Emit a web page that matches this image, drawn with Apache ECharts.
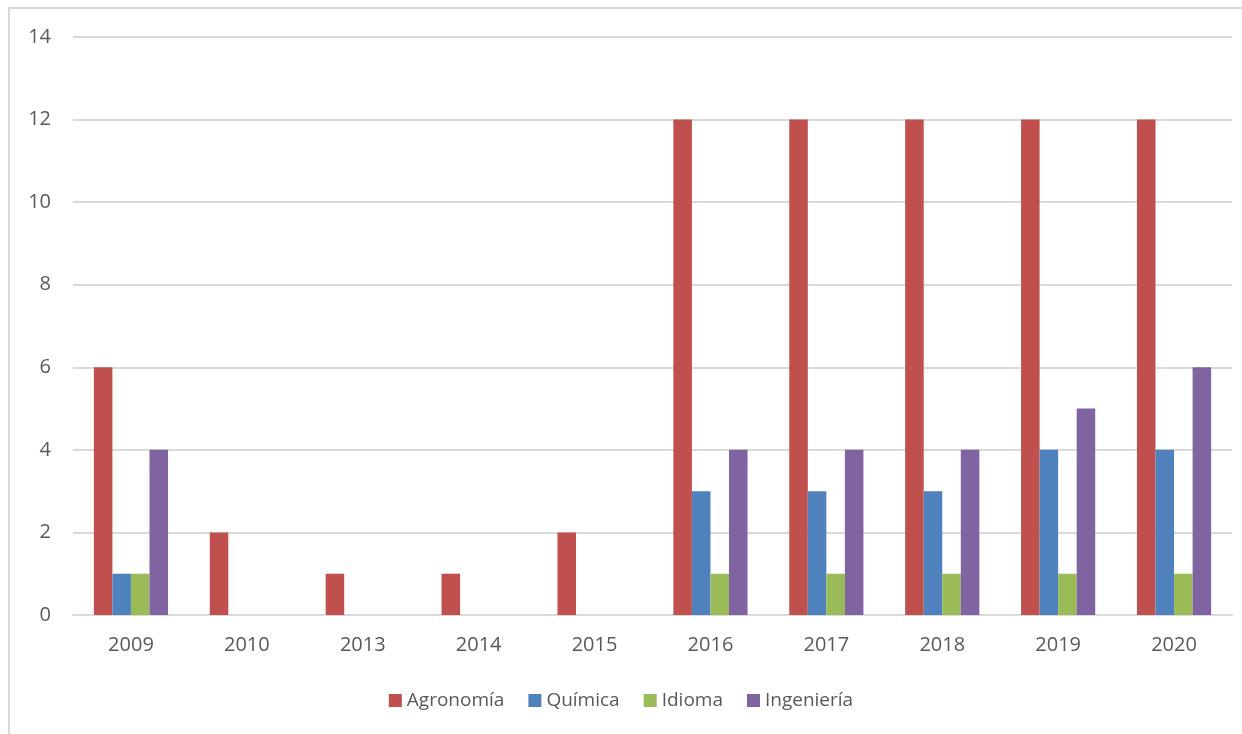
<!DOCTYPE html>
<html><head><meta charset="utf-8">
<script src="https://cdn.jsdelivr.net/npm/echarts@6/dist/echarts.min.js"></script>
<style>
html,body{margin:0;padding:0;background:#fff;}
#frame{position:absolute;left:8px;top:7px;width:1300px;height:800px;border:2px solid #d9d9d9;box-sizing:border-box;}
#c{position:absolute;left:0;top:0;width:1242px;height:734px;}
</style></head>
<body>
<div id="frame"></div>
<div id="c"></div>
<script>
const categories = ['2009','2010','2013','2014','2015','2016','2017','2018','2019','2020'];
const agronomia = [6,2,1,1,2,12,12,12,12,12];
const quimica = [1,0,0,0,0,3,3,3,4,4];
const idioma = [1,0,0,0,0,1,1,1,1,1];
const ingenieria = [4,0,0,0,0,4,4,4,5,6];
const seriesNames = ['Agronomía','Química','Idioma','Ingeniería'];
const colors = ['#C0504D','#4F81BD','#9BBB59','#8064A2'];
const yTicks = {min:0,max:14,interval:2};

const font = '"Open Sans", "Noto Sans", sans-serif';
const chart = echarts.init(document.getElementById('c'));
const data = [agronomia, quimica, idioma, ingenieria];
chart.setOption({
  animation:false,
  color: colors,
  textStyle:{fontFamily:font},
  grid:{left:73,right:10,top:37,bottom:119,containLabel:false},
  legend:{
    bottom:19,left:'center',itemWidth:13,itemHeight:13,itemGap:24,icon:'rect',
    textStyle:{fontSize:19,color:'#595959',fontFamily:font}
  },
  xAxis:{
    type:'category',data:categories,
    axisLine:{lineStyle:{color:'#d9d9d9',width:2}},
    axisTick:{show:false},
    axisLabel:{fontSize:20,color:'#595959',margin:20,fontFamily:font}
  },
  yAxis:{
    type:'value',min:yTicks.min,max:yTicks.max,interval:yTicks.interval,
    axisLine:{show:false},axisTick:{show:false},
    splitLine:{lineStyle:{color:'#d9d9d9',width:2}},
    axisLabel:{fontSize:20,color:'#595959',margin:22,fontFamily:font}
  },
  series: seriesNames.map((n,i)=>({
    name:n,type:'bar',data:data[i],barGap:'0%',barCategoryGap:'36%'
  }))
});
</script>
</body></html>
